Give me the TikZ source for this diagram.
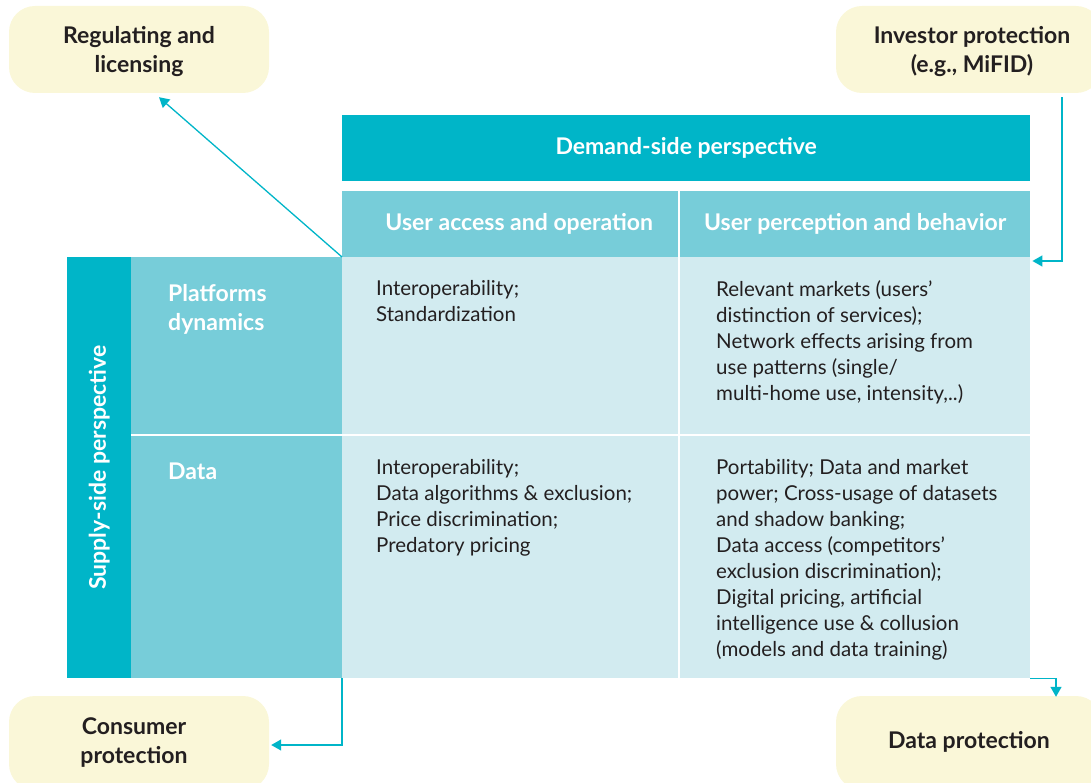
\documentclass[tikz,border=0pt]{standalone}
\usepackage{fontspec}
\setmainfont{Lato}
\usetikzlibrary{arrows.meta,calc}
\definecolor{tdark}{HTML}{00B5C8}
\definecolor{tmid}{HTML}{77CDD9}
\definecolor{tlight}{HTML}{D2EBF0}
\definecolor{ybox}{HTML}{FAF7D8}
\definecolor{ink}{HTML}{231F20}
\tikzset{
  x=1pt, y=1pt,
  cell/.style={anchor=north west, inner sep=0pt, draw=none},
  hdr/.style={text=white, font=\bfseries\fontsize{23}{28}\selectfont},
  body/.style={anchor=north west, inner sep=0pt, align=left, text=ink, font=\fontsize{20.5}{26}\selectfont},
  rowhdr/.style={anchor=north west, inner sep=0pt, align=left, text=white, font=\bfseries\fontsize{23}{29}\selectfont},
  ybx/.style={fill=ybox, rounded corners=26pt, inner sep=0pt},
  ytxt/.style={align=center, inner sep=0pt, text=ink, font=\bfseries\fontsize{23}{29}\selectfont},
  arr/.style={draw=tdark, line width=1.3pt, -{Triangle[length=10pt,width=11pt]}}
}
\begin{document}
\begin{tikzpicture}
\useasboundingbox (0,0) rectangle (1091,-783);
% yellow boxes
\node[ybx, minimum width=260, minimum height=87] (reg) at (139,-49.5) {};
\node[ytxt] at ($(reg.center)+(0,-2)$) {Regulating and\\licensing};
\node[ybx, minimum width=266, minimum height=87] (inv) at (969,-49.5) {};
\node[ytxt] at ($(inv.center)+(3,-2)$) {Investor protection\\(e.g., MiFID)};
\node[ybx, minimum width=260, minimum height=94] (cons) at (139,-743) {};
\node[ytxt] at ($(cons.center)+(-5,0)$) {Consumer\\protection};
\node[ybx, minimum width=266, minimum height=94] (dprot) at (969,-743) {};
\node[ytxt] at ($(dprot.center)+(0,1)$) {Data protection};
% header
\node[cell, fill=tdark, minimum width=688, minimum height=66] (demand) at (342,-115) {};
\node[hdr] at (demand.center) {Demand-side perspective};
\node[cell, fill=tmid, minimum width=336, minimum height=66] (ua) at (342,-191) {};
\node[hdr] at ([xshift=9]ua.center) {User access and operation};
\node[cell, fill=tmid, minimum width=350, minimum height=66] (up) at (680,-191) {};
\node[hdr] at (up.center) {User perception and behavior};
% supply side
\node[cell, fill=tdark, minimum width=64, minimum height=421] (sup) at (67,-257) {};
\node[hdr, rotate=90] at ($(sup.center)+(0,0)$) {Supply-side perspective};
\node[cell, fill=tmid, minimum width=211, minimum height=177] (pd) at (131,-257) {};
\node[cell, fill=tmid, minimum width=211, minimum height=242] (dt) at (131,-436) {};
\node[rowhdr] at ($(pd.north west)+(37,-27)$) {Platforms\\dynamics};
\node[rowhdr] at ($(dt.north west)+(37,-27)$) {Data};
% content cells
\node[cell, fill=tlight, minimum width=336, minimum height=177] (c11) at (342,-257) {};
\node[cell, fill=tlight, minimum width=350, minimum height=177] (c12) at (680,-257) {};
\node[cell, fill=tlight, minimum width=336, minimum height=242] (c21) at (342,-436) {};
\node[cell, fill=tlight, minimum width=350, minimum height=242] (c22) at (680,-436) {};
\node[body] at ($(c11.north west)+(34,-23)$) {Interoperability;\\Standardization};
\node[body] at ($(c12.north west)+(36,-23)$) {Relevant markets (users’\\distinction of services);\\Network effects arising from\\use patterns (single/\\multi-home use, intensity,..)};
\node[body] at ($(c21.north west)+(34,-23)$) {Interoperability;\\Data algorithms \& exclusion;\\Price discrimination;\\Predatory pricing};
\node[body] at ($(c22.north west)+(36,-23)$) {Portability; Data and market\\power; Cross-usage of datasets\\and shadow banking;\\Data access (competitors’\\exclusion discrimination);\\Digital pricing, artificial\\intelligence use \& collusion\\(models and data training)};
% connectors
\draw[arr] (c11.north west) -- ($(reg.south)+(20,-4)$);
\draw[arr] ($(inv.south)+(93,-4)$) |- ($(c12.north east)+(2,-4)$);
\draw[arr] (c21.south west) |- ($(cons.east)+(2,-2)$);
\draw[arr] (c22.south east) -| ($(dprot.north)+(87,-1)$);
\end{tikzpicture}
\end{document}
